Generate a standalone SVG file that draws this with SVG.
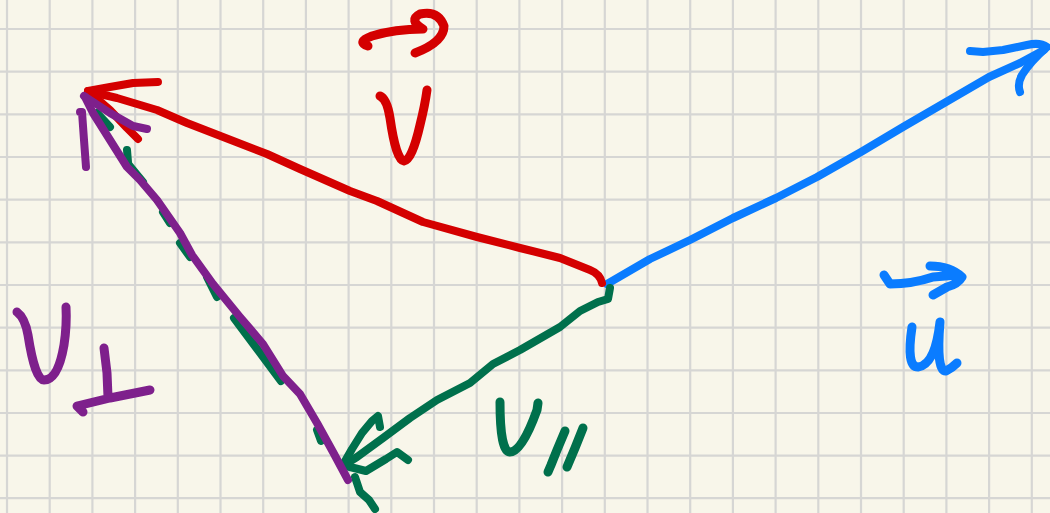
<svg xmlns="http://www.w3.org/2000/svg" width="1050" height="513" viewBox="0 0 1050 513">
<style>
.ink{fill:none;stroke-width:8;stroke-linecap:round;stroke-linejoin:round}
.lbl{stroke-width:9}
.r{stroke:#d40000}
.b{stroke:#0a7cff}
.g{stroke:#00704c}
.p{stroke:#7e208c}
.grid{fill:none;stroke:#d6d6d4;stroke-width:2.2}
</style>
<rect width="1050" height="513" fill="#f8f6ea"/>
<g id="grid">
<path class="grid" d="M7 0V513M49.7 0V513M92.4 0V513M135.1 0V513M177.8 0V513M220.5 0V513M263.2 0V513M305.9 0V513M348.6 0V513M391.3 0V513M434 0V513M476.7 0V513M519.4 0V513M562.1 0V513M604.8 0V513M647.5 0V513M690.2 0V513M732.9 0V513M775.6 0V513M818.3 0V513M861 0V513M903.7 0V513M946.4 0V513M989.1 0V513M1031.8 0V513M0 29H1050M0 71.7H1050M0 114.3H1050M0 157H1050M0 199.6H1050M0 242.3H1050M0 285H1050M0 327.6H1050M0 370.3H1050M0 413H1050M0 455.6H1050M0 498.2H1050"/>
</g>
<g id="connectors">
<g id="vec-u">
<path class="ink b" d="M607 284 L650 259 L690 240 L733 218 L776 198 L817 177 L861 152 L903 127 L946 102 L989 77 L1020 63 L1044 50"/>
<path class="ink b" d="M970 51 L983 52 L1003 50 L1027 45 Q1040 42 1047 47 Q1030 62 1022 75 Q1017 84 1020 92"/>
</g>
<g id="vec-v">
<path class="ink r" d="M602 283 Q600 274 590 270 L560 258 L520 248 L477 237 L423 222 L377 201 L350 191 L300 169 L267 154 L187 123 L157 110 L117 98 L100 94 L88 91"/>
<path class="ink r" d="M158 82 L133 83 L110 87 L88 91 L110 110 L127 128 L138 139"/>
</g>
<g id="vec-v-parallel">
<path class="ink g" d="M97 113 L110 127 M127 150 L128 162 M129 165 L143 182 M163 212 L170 223 M180 243 L190 257 M207 277 L217 297 M234 318 L281 381 M317 430 L321 441"/>
<path class="ink g" d="M610 288 L608 299 L598 302 L580 311 L560 327 L520 350 L493 364 L470 383 L437 400 L410 418 L383 438 L357 457 L344 465"/>
<path class="ink g" d="M344 463 L352 449 L362 433 L372 421 L378 416 L380 427"/>
<path class="ink g" d="M346 466 L366 471 L386 459 L397 452 L408 460"/>
<path class="ink g" d="M355 477 L360 492 L369 500 L375 509"/>
</g>
<g id="vec-v-perp">
<path class="ink p" d="M348 480 L333 452 L317 423 L300 394 L283 376 L263 344 L240 317 L213 284 L192 255 L180 233 L157 200 L140 180 L127 167 L110 140 L93 113 L85 97"/>
<path class="ink p" d="M86 167 L84 140 L82 112 L80 112 M84 96 L110 113 L133 126 L147 129"/>
</g>
</g>
<g id="label-v">
<path class="ink lbl r" d="M368 46 Q356 42 372 36 Q395 29 423 29 Q408 20 420 14 Q438 10 444 26 Q444 42 415 53"/>
<path class="ink lbl r" d="M380 96 Q387 99 390 118 Q396 160 404 161 Q412 160 420 125 Q425 105 427 90"/>
</g>
<g id="label-u">
<path class="ink lbl b" d="M884 275 L890 284 Q912 284 933 277 L958 275 M930 266 Q950 266 962 277 Q958 284 947 287 L933 295"/>
<path class="ink lbl b" d="M912 327 Q906 367 918 367 Q935 365 940 322 Q936 372 946 371 Q952 368 957 363"/>
</g>
<g id="label-v-parallel">
<path class="ink lbl g" d="M500 402 Q500 452 510 452 Q522 452 537 410 L538 403"/>
<path class="ink lbl g" d="M565 431 L557 450 L551 465 L548 472 M583 428 L575 448 L567 467"/>
</g>
<g id="label-v-perp">
<path class="ink lbl p" d="M17 312 Q25 318 28 335 Q35 380 44 380 Q58 380 64 345 Q67 325 66 307"/>
<path class="ink lbl p" d="M104 348 L107 373 L108 397 M150 390 L110 398 L77 406 L83 412"/>
</g>
</svg>
